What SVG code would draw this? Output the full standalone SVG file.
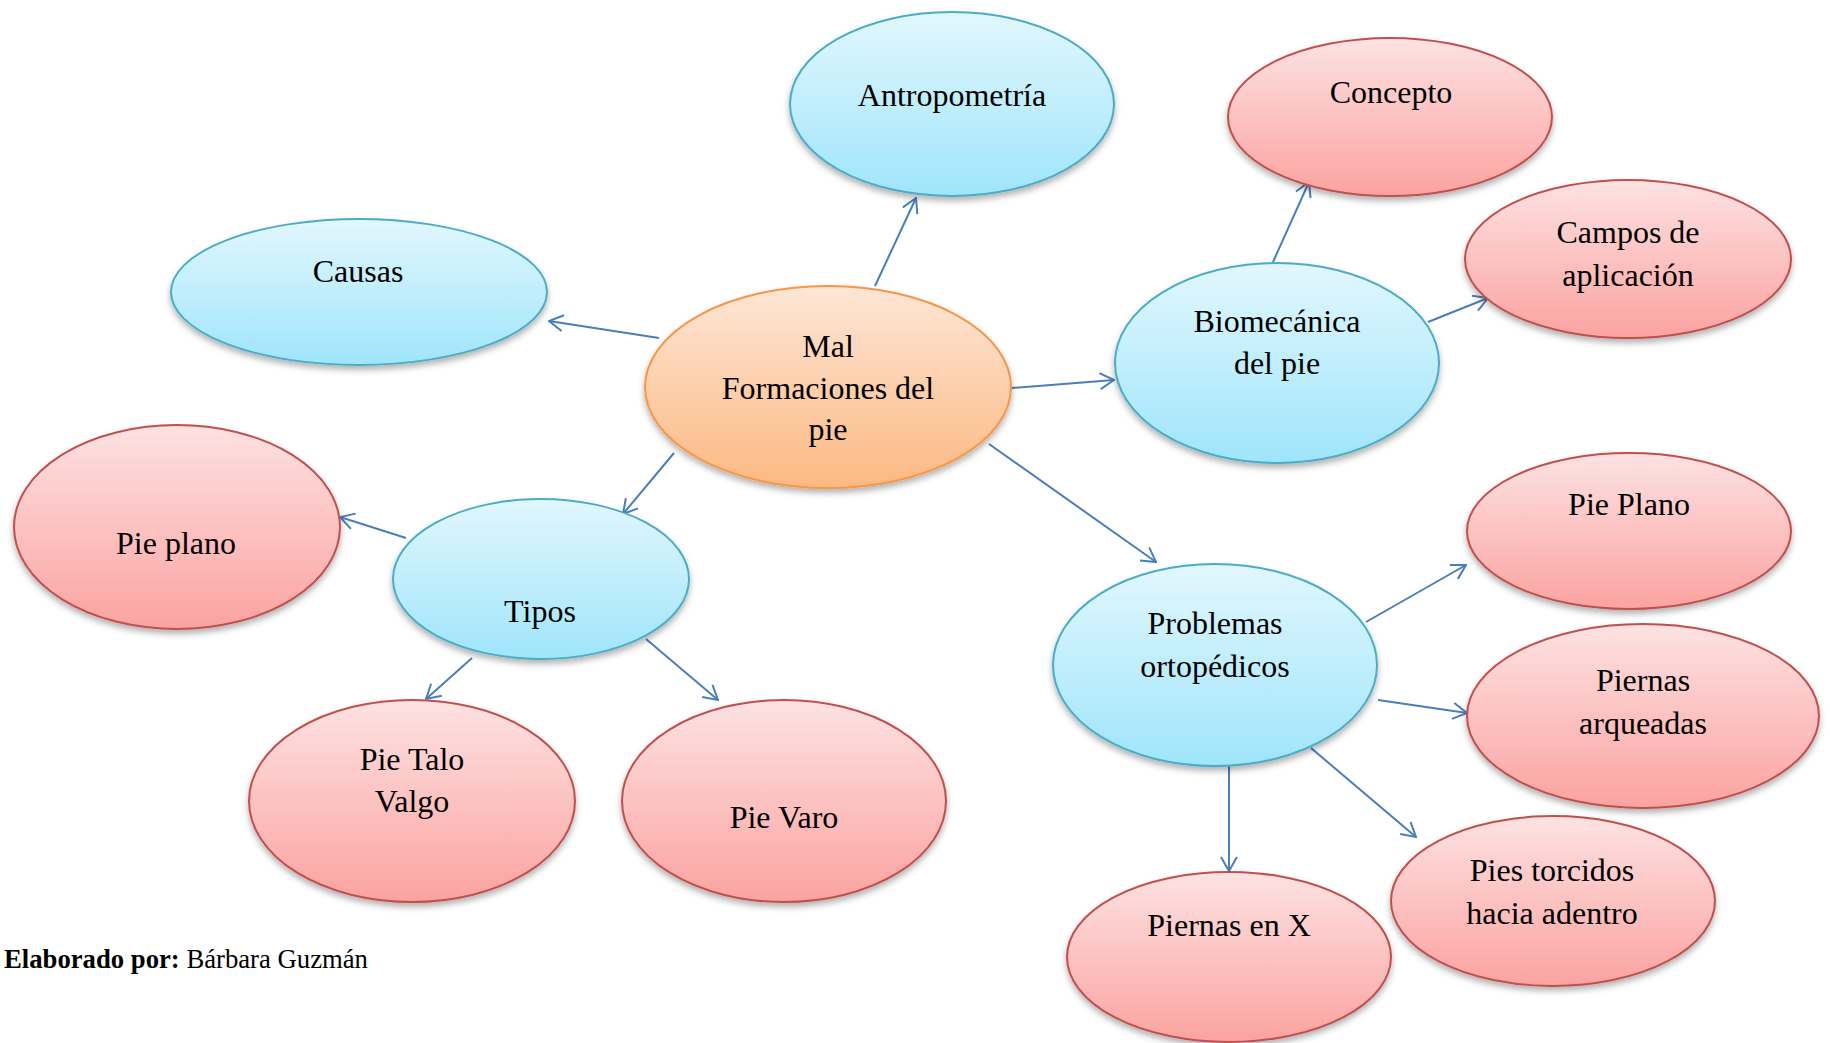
<svg xmlns="http://www.w3.org/2000/svg" width="1830" height="1043" viewBox="0 0 1830 1043">
<style>
text{font-family:"Liberation Serif","Times New Roman",serif;font-size:32px;fill:#000;text-anchor:middle}
.blue{fill:url(#gBlue);stroke:#4bacc6;stroke-width:2;filter:url(#sh)}
.red{fill:url(#gRed);stroke:#c0504d;stroke-width:2;filter:url(#sh)}
.orange{fill:url(#gOrange);stroke:#f79646;stroke-width:2;filter:url(#sh)}
#connectors line{stroke:#4a7ebb;stroke-width:2;marker-end:url(#arr)}
.foot{font-size:26.7px;text-anchor:start}
</style>
<defs>
<linearGradient id="gBlue" x1="0" y1="0" x2="0" y2="1"><stop offset="0" stop-color="#e2f7fe"/><stop offset="1" stop-color="#9fe5fb"/></linearGradient>
<linearGradient id="gRed" x1="0" y1="0" x2="0" y2="1"><stop offset="0" stop-color="#fde2e2"/><stop offset="1" stop-color="#fba3a1"/></linearGradient>
<linearGradient id="gOrange" x1="0" y1="0" x2="0" y2="1"><stop offset="0" stop-color="#fde6d6"/><stop offset="1" stop-color="#fcb982"/></linearGradient>
<filter id="sh" x="-10%" y="-10%" width="120%" height="130%"><feDropShadow dx="0" dy="4" stdDeviation="3" flood-color="#000" flood-opacity="0.3"/></filter>
<marker id="arr" viewBox="0 0 16 18" refX="15" refY="9" markerWidth="16" markerHeight="18" markerUnits="userSpaceOnUse" orient="auto"><path d="M1,1 L15,9 L1,17" fill="none" stroke="#4a7ebb" stroke-width="2"/></marker>
</defs>
<g id="connectors">
<line x1="875" y1="286" x2="916" y2="198"/>
<line x1="659" y1="338" x2="549" y2="321"/>
<line x1="1012" y1="388" x2="1114" y2="380"/>
<line x1="674" y1="453" x2="623" y2="514"/>
<line x1="989" y1="444" x2="1156" y2="562"/>
<line x1="406" y1="538" x2="340" y2="517"/>
<line x1="472" y1="658" x2="426" y2="699"/>
<line x1="646" y1="639" x2="718" y2="700"/>
<line x1="1273" y1="262" x2="1309" y2="182"/>
<line x1="1428" y1="322" x2="1488" y2="298"/>
<line x1="1366" y1="622" x2="1466" y2="565"/>
<line x1="1378" y1="700" x2="1467" y2="713"/>
<line x1="1229" y1="760" x2="1229" y2="871"/>
<line x1="1311" y1="748" x2="1416" y2="837"/>
</g>
<g id="antropometria"><ellipse class="blue" cx="952" cy="104" rx="162" ry="92"/><text x="952" y="106">Antropometría</text></g>
<g id="causas"><ellipse class="blue" cx="359" cy="292" rx="188" ry="73"/><text x="358" y="282">Causas</text></g>
<g id="mal-formaciones"><ellipse class="orange" cx="828" cy="387" rx="183" ry="101"/><text x="828" y="357">Mal</text><text x="828" y="399">Formaciones del</text><text x="828" y="440">pie</text></g>
<g id="biomecanica"><ellipse class="blue" cx="1277" cy="363" rx="162" ry="100"/><text x="1277" y="332">Biomecánica</text><text x="1277" y="374">del pie</text></g>
<g id="concepto"><ellipse class="red" cx="1390" cy="117" rx="162" ry="79"/><text x="1391" y="103">Concepto</text></g>
<g id="campos"><ellipse class="red" cx="1628" cy="259" rx="163" ry="79"/><text x="1628" y="243">Campos de</text><text x="1628" y="286">aplicación</text></g>
<g id="tipos"><ellipse class="blue" cx="541" cy="579" rx="148" ry="80"/><text x="540" y="622">Tipos</text></g>
<g id="pie-plano"><ellipse class="red" cx="177" cy="527" rx="163" ry="102"/><text x="176" y="554">Pie plano</text></g>
<g id="pie-talo-valgo"><ellipse class="red" cx="412" cy="801" rx="163" ry="101"/><text x="412" y="770">Pie Talo</text><text x="412" y="812">Valgo</text></g>
<g id="pie-varo"><ellipse class="red" cx="784" cy="801" rx="162" ry="101"/><text x="784" y="828">Pie Varo</text></g>
<g id="problemas"><ellipse class="blue" cx="1215" cy="665" rx="162" ry="101"/><text x="1215" y="634">Problemas</text><text x="1215" y="677">ortopédicos</text></g>
<g id="pie-plano-2"><ellipse class="red" cx="1629" cy="531" rx="162" ry="78"/><text x="1629" y="515">Pie Plano</text></g>
<g id="piernas-arqueadas"><ellipse class="red" cx="1643" cy="716" rx="176" ry="92"/><text x="1643" y="691">Piernas</text><text x="1643" y="734">arqueadas</text></g>
<g id="piernas-x"><ellipse class="red" cx="1229" cy="957" rx="162" ry="85"/><text x="1229" y="936">Piernas en X</text></g>
<g id="pies-torcidos"><ellipse class="red" cx="1553" cy="901" rx="162" ry="85"/><text x="1552" y="881">Pies torcidos</text><text x="1552" y="924">hacia adentro</text></g>
<text class="foot" x="4" y="968"><tspan font-weight="bold">Elaborado por:</tspan> Bárbara Guzmán</text>
</svg>
